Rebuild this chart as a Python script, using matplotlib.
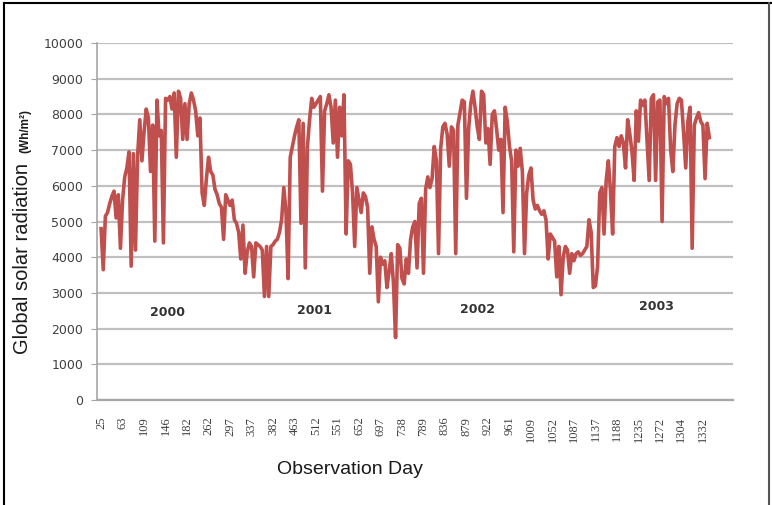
import numpy as np
import matplotlib.pyplot as plt
from matplotlib.lines import Line2D

# observation day shown under every 10th sample
tick_days = [25, 63, 109, 146, 182, 262, 297, 337, 382, 463, 512, 551, 652, 697,
             738, 789, 836, 879, 922, 961, 1009, 1052, 1087, 1137, 1188, 1235,
             1272, 1304, 1332]

# daily global solar radiation (Wh/m2), 2000-2003
radiation = [
    4800, 3650, 5150, 5250, 5500, 5700, 5850, 5100, 5750, 4250,
    5600, 6250, 6500, 6950, 3750, 6900, 4200, 6850, 7850, 6700,
    7500, 8150, 7900, 6400, 7700, 4450, 8400, 7400, 7550, 4400,
    8450, 8400, 8500, 8150, 8600, 6800, 8650, 8450, 7300, 8300,
    7300, 8300, 8600, 8400, 8100, 7400, 7900, 5800, 5450, 6200,
    6800, 6400, 6300, 5900, 5750, 5500, 5400, 4500, 5750, 5600,
    5450, 5600, 5050, 4950, 4700, 3950, 4900, 3550, 4150, 4400,
    4300, 3450, 4400, 4350, 4300, 4200, 2900, 4300, 2900, 4300,
    4350, 4450, 4500, 4700, 5050, 5950, 5300, 3400, 6800, 7100,
    7400, 7650, 7850, 4950, 7750, 3700, 7100, 7850, 8450, 8200,
    8300, 8400, 8500, 5850, 8100, 8300, 8550, 8200, 7200, 8400,
    6800, 8200, 7400, 8550, 4650, 6700, 6600, 5800, 4300, 5950,
    5600, 5250, 5800, 5700, 5400, 3550, 4850, 4500, 4300, 2750,
    4000, 3800, 3900, 3150, 3600, 4100, 3300, 1750, 4350, 4250,
    3400, 3250, 3950, 3550, 4500, 4850, 5000, 3700, 5500, 5650,
    3550, 5900, 6250, 5950, 6200, 7100, 6700, 4100, 7050, 7650,
    7750, 7450, 6550, 7650, 7550, 4100, 7700, 8050, 8400, 8350,
    5650, 7600, 8300, 8650, 8200, 7650, 7300, 8650, 8550, 7200,
    7600, 6600, 8000, 8100, 7600, 7000, 7300, 5250, 8200, 7800,
    7100, 6700, 4150, 7000, 6550, 7050, 6400, 4100, 5800, 6300,
    6500, 5600, 5350, 5450, 5300, 5200, 5300, 5050, 3950, 4650,
    4550, 4450, 3450, 4300, 2950, 4000, 4300, 4200, 3550, 4100,
    3900, 4100, 4150, 4050, 4100, 4200, 4300, 5050, 4700, 3150,
    3200, 3750, 5800, 5950, 4650, 6150, 6700, 5850, 4650, 7100,
    7350, 7100, 7400, 7200, 6500, 7850, 7450, 6950, 6150, 8100,
    7250, 8400, 8250, 8400, 7300, 6150, 8450, 8550, 6150, 8350,
    8400, 5000, 8500, 8300, 8450, 7000, 6400, 7700, 8300, 8450,
    8400, 7500, 6500, 7800, 8200, 4250, 7700, 7900, 8050, 7800,
    7700, 6200, 7750, 7350,
]

years = ['2000', '2001', '2002', '2003']

W, H = 772, 505
fig = plt.figure(figsize=(W / 100, H / 100), dpi=100, facecolor='w')
ax = fig.add_axes([97 / W, 1 - 400 / H, (733 - 97) / W, (400 - 43) / H])

x = np.arange(len(radiation))
ax.plot(x, radiation, color='#C0504D', lw=2.6, solid_joinstyle='round')

ax.set_ylim(0, 10000)
ax.set_xlim(-1.9, 294)
ax.set_yticks(range(0, 10001, 1000))
ax.set_xticks(np.arange(len(tick_days)) * 10)
ax.set_xticklabels([str(d) for d in tick_days], rotation=90,
                   family='Liberation Serif', fontsize=9, color='#404040')
for t in ax.get_yticklabels():
    t.set_family('DejaVu Sans')
    t.set_fontsize(9)
    t.set_color('#404040')

ax.yaxis.grid(True, color='#C0C0C0', lw=1.6)
ax.set_axisbelow(True)
for s in ['top', 'right']:
    ax.spines[s].set_visible(False)
ax.spines['left'].set_color('#A6A6A6')
ax.spines['bottom'].set_color('#A6A6A6')
ax.spines['left'].set_linewidth(1.2)
ax.spines['bottom'].set_linewidth(1.6)
ax.tick_params(axis='y', length=4, color='#A6A6A6', pad=6)
ax.tick_params(axis='x', length=0, pad=12)

# year names under each seasonal cycle
for xi, yi, name in zip([30.7, 99.5, 175.3, 258.6], [2450, 2500, 2530, 2620], years):
    ax.text(xi, yi, name, ha='center', va='center', fontsize=9,
            fontweight='bold', color='#333333', family='DejaVu Sans')

# axis titles
fig.text(28 / W, 1 - 354 / H, 'Global solar radiation', rotation=90,
         rotation_mode='anchor', ha='left', va='baseline', fontsize=14.5,
         family='Liberation Sans', color='#1a1a1a')
fig.text(28 / W, 1 - 153 / H, '(Wh/m\u00b2)', rotation=90,
         rotation_mode='anchor', ha='left', va='baseline', fontsize=8.5,
         fontweight='bold', family='Liberation Sans', color='#1a1a1a')
fig.text(350 / W, 1 - 470 / H, 'Observation Day', ha='center', va='center',
         fontsize=14, family='Liberation Sans', color='#1a1a1a')

# outer frame
frame = dict(transform=fig.transFigure, lw=1.5)
fig.add_artist(Line2D([4 / W, 4 / W], [0, 1 - 3 / H], color='black', **frame))
fig.add_artist(Line2D([4 / W, 1], [1 - 3 / H, 1 - 3 / H], color='black', **frame))
fig.add_artist(Line2D([769 / W, 769 / W], [0, 1 - 3 / H], color='#555555', **frame))

fig.savefig('out.png', dpi=100, facecolor='w')
